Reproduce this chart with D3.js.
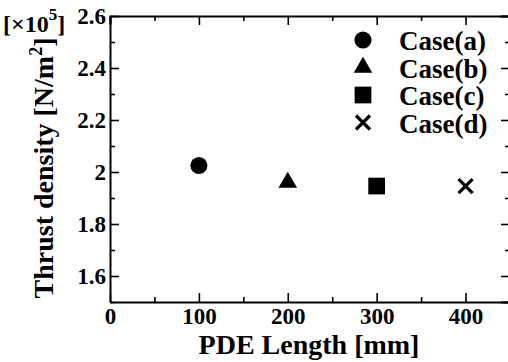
<!DOCTYPE html>
<html>
<head>
<meta charset="utf-8">
<script src="https://cdn.jsdelivr.net/npm/d3@7"></script>
<style>
  body { margin: 0; background: #fff; }
</style>
</head>
<body>
<div id="chart"></div>
<script>
// data
var cases = ["Case(a)", "Case(b)", "Case(c)", "Case(d)"];
var lengths = [100, 200, 300, 400];
var thrust = [2.025, 1.960, 1.946, 1.946];
var shapes = ["circle", "triangle", "square", "cross"];
var xTicks = [0, 100, 200, 300, 400];
var yTicks = [1.6, 1.8, 2, 2.2, 2.4, 2.6];

var FONT = "Liberation Serif";

var W = 508, H = 362;
var margin = { top: 16, right: -2, bottom: 60, left: 110 },
    width = W - margin.left - margin.right,
    height = H - margin.top - margin.bottom;

var svg = d3.select("#chart").append("svg")
    .attr("width", W).attr("height", H);
var g = svg.append("g")
    .attr("transform", "translate(" + margin.left + "," + margin.top + ")");

var x = d3.scaleLinear().domain([0, 450]).range([0, width]);
var y = d3.scaleLinear().domain([1.5, 2.6]).range([height, 0]);

var minorX = d3.range(50, 450, 100);
var minorY = d3.range(1.5, 2.6, 0.2).map(function (d) { return +d.toFixed(1); });

function styleAxis(sel) {
    sel.select(".domain").attr("stroke-width", 2);
    sel.selectAll(".tick line").attr("stroke-width", 1.6);
    sel.selectAll("text")
        .attr("font-family", FONT).attr("font-weight", "bold")
        .attr("font-size", 23).attr("fill", "#000");
}
function minor(s) {
    s.select(".domain").remove();
    s.selectAll("line").attr("stroke-width", 1.6);
}
// helper for plain texts
function label(parent, size) {
    return parent.append("text")
        .attr("font-family", FONT).attr("font-weight", "bold")
        .attr("font-size", size).attr("fill", "#000");
}

// bottom axis, ticks pointing in
g.append("g").attr("transform", "translate(0," + height + ")")
    .call(d3.axisBottom(x).tickValues(xTicks).tickSizeInner(-9).tickSizeOuter(0).tickPadding(6).tickFormat(d3.format("d")))
    .call(styleAxis);
g.append("g").attr("transform", "translate(0," + height + ")")
    .call(d3.axisBottom(x).tickValues(minorX).tickSize(-5).tickFormat(""))
    .call(minor);

// top axis
g.append("g")
    .call(d3.axisTop(x).tickValues(xTicks).tickSize(-9).tickFormat(""))
    .call(styleAxis);
g.append("g")
    .call(d3.axisTop(x).tickValues(minorX).tickSize(-5).tickFormat(""))
    .call(minor);

// left axis
g.append("g")
    .call(d3.axisLeft(y).tickValues(yTicks).tickSizeInner(-9).tickSizeOuter(0).tickPadding(4).tickFormat(function (d) { return d === 2 ? "2" : d3.format(".1f")(d); }))
    .call(styleAxis);
g.append("g")
    .call(d3.axisLeft(y).tickValues(minorY).tickSize(-5).tickFormat(""))
    .call(minor);

// right axis
g.append("g").attr("transform", "translate(" + width + ",0)")
    .call(d3.axisRight(y).tickValues(yTicks).tickSize(-9).tickFormat(""))
    .call(styleAxis);
g.append("g").attr("transform", "translate(" + width + ",0)")
    .call(d3.axisRight(y).tickValues(minorY).tickSize(-5).tickFormat(""))
    .call(minor);

// axis titles
label(svg, 28)
    .attr("x", 309).attr("y", 354)
    .attr("text-anchor", "middle")
    .text("PDE Length [mm]");

var yt = label(svg, 28)
    .attr("transform", "translate(53,168) rotate(-90)")
    .attr("text-anchor", "middle");
yt.append("tspan").text("Thrust density [N/m");
yt.append("tspan").attr("dy", -11).attr("font-size", 18).text("2");
yt.append("tspan").attr("dy", 11).text("]");

var mult = label(svg, 24).attr("x", 3).attr("y", 32);
mult.append("tspan").text("[\u00d710");
mult.append("tspan").attr("dy", -12).attr("font-size", 17).text("5");
mult.append("tspan").attr("dy", 12).text("]");

// markers
function drawMark(sel, shape) {
    if (shape === "cross") {
        sel.append("path").attr("d", "M-7,-7L7,7M-7,7L7,-7")
            .attr("stroke", "#000").attr("stroke-width", 3.2).attr("fill", "none");
    } else {
        var type = { circle: d3.symbolCircle, triangle: d3.symbolTriangle, square: d3.symbolSquare }[shape];
        var size = { circle: 230, triangle: 150, square: 280 }[shape];
        sel.append("path").attr("d", d3.symbol().type(type).size(size)()).attr("fill", "#000");
    }
}

lengths.forEach(function (L, i) {
    var m = g.append("g").attr("transform", "translate(" + x(L) + "," + y(thrust[i]) + ")");
    drawMark(m, shapes[i]);
});

// legend
var legY = [40, 67.5, 95, 122.5];
cases.forEach(function (c, i) {
    var m = svg.append("g").attr("transform", "translate(363," + legY[i] + ")");
    drawMark(m, shapes[i]);
    label(svg, 27).attr("x", 399).attr("y", legY[i] + 10).text(c);
});
</script>
</body>
</html>
